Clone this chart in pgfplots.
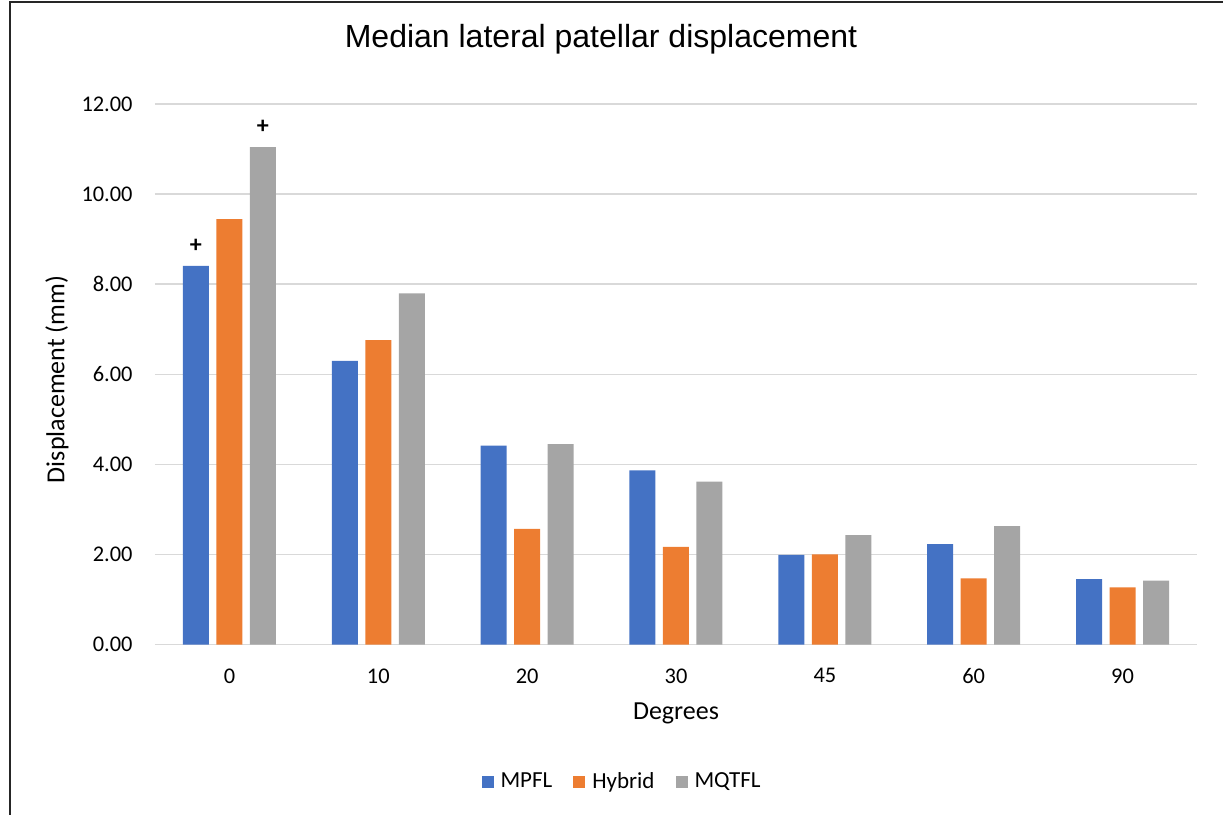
\documentclass[border=0pt]{standalone}
\usepackage{pgfplots}
\pgfplotsset{compat=1.18}
\usepackage{fontspec}
\setmainfont{Carlito}
\newfontfamily\titlefont{Liberation Sans}

\definecolor{mpfl}{RGB}{68,114,196}
\definecolor{hybrid}{RGB}{237,125,49}
\definecolor{mqtfl}{RGB}{165,165,165}
\definecolor{gridgray}{RGB}{217,217,217}

\begin{document}
\begin{tikzpicture}
% page frame, 1 px = 0.5 pt
\path[use as bounding box] (0,0) rectangle (611.5pt,-407.5pt);
\draw[line width=1pt, black!85] (4.75pt,-407.5pt) -- (4.75pt,-0.75pt) -- (611.5pt,-0.75pt);

\begin{axis}[
    at={(77.5pt,-322.25pt)}, anchor=south west,
    scale only axis,
    width=521pt, height=270.1pt,
    ybar=3.75pt,
    bar width=13pt,
    xmin=-0.5, xmax=6.5,
    ymin=0, ymax=12,
    xtick=data,
    xticklabels={0,10,20,30,45,60,90},
    ytick={0,2,...,12},
    axis line style={draw=none},
    major tick length=0pt,
    ymajorgrids=true,
    grid style={gridgray, line width=0.9pt},
    /pgf/number format/.cd, fixed, fixed zerofill, precision=2, assume math mode=true,
    /pgfplots/.cd,
    tick label style={font=\fontsize{11.2}{13}\selectfont, black},
    yticklabel style={anchor=east, inner sep=0pt, xshift=-11pt},
    xticklabel style={anchor=north, inner sep=0pt, yshift=-11.8pt},
    xlabel={Degrees},
    ylabel={Displacement (mm)},
    label style={font=\fontsize{13}{15}\selectfont, black},
    xlabel style={at={(0.5,-0.1268)}, anchor=center},
    ylabel style={at={(-0.094,0.4906)}, anchor=center},
    title={\titlefont Median lateral patellar displacement},
    title style={at={(0.428,1.0987)}, anchor=center, font=\fontsize{16}{18}\selectfont},
    legend columns=3,
    legend style={at={(0.4487,-0.2545)}, anchor=center, draw=none,
        font=\fontsize{11.5}{13}\selectfont,
        /tikz/every odd column/.append style={column sep=2pt},
        /tikz/every even column/.append style={column sep=9pt},
        nodes={inner sep=1.5pt}},
    legend image code/.code={\fill[#1] (0pt,-3pt) rectangle (6pt,3pt);},
    every node near coord/.append style={anchor=center, yshift=10pt,
        font=\bfseries\fontsize{12}{12}\selectfont},
]
\addplot[fill=mpfl, draw=none, point meta=explicit symbolic, nodes near coords]
    coordinates {(0,8.41) [+] (1,6.30) [] (2,4.42) [] (3,3.87) [] (4,1.99) [] (5,2.23) [] (6,1.45) []};
\addplot[fill=hybrid, draw=none]
    coordinates {(0,9.45) (1,6.76) (2,2.57) (3,2.17) (4,2.00) (5,1.47) (6,1.27)};
\addplot[fill=mqtfl, draw=none, point meta=explicit symbolic, nodes near coords]
    coordinates {(0,11.05) [+] (1,7.80) [] (2,4.45) [] (3,3.62) [] (4,2.43) [] (5,2.63) [] (6,1.42) []};
\legend{MPFL, Hybrid, MQTFL}
\end{axis}
\end{tikzpicture}
\end{document}
